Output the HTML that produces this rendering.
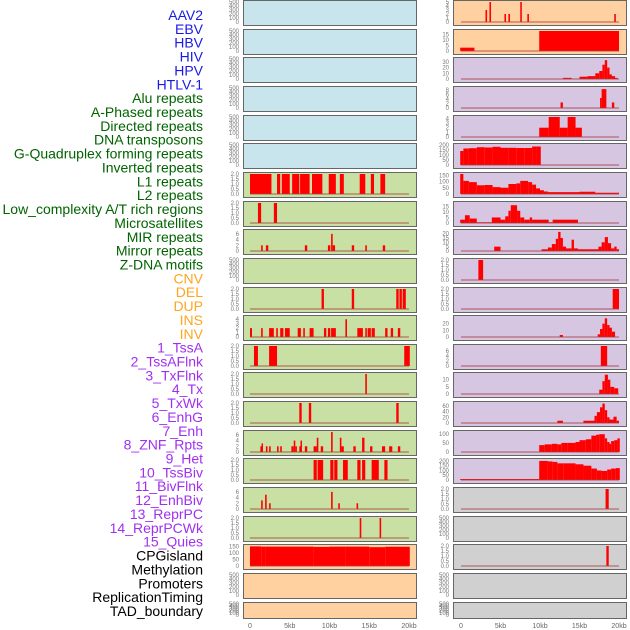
<!DOCTYPE html>
<html><head><meta charset="utf-8">
<style>
body{margin:0;background:#fff;}
svg{display:block;font-family:"Liberation Sans",sans-serif;}
</style></head>
<body>
<svg id="c" width="630" height="630" viewBox="0 0 630 630" xmlns="http://www.w3.org/2000/svg"></svg>
<script>
const labels=["AAV2","EBV","HBV","HIV","HPV","HTLV-1","Alu repeats","A-Phased repeats","Directed repeats","DNA transposons","G-Quadruplex forming repeats","Inverted repeats","L1 repeats","L2 repeats","Low_complexity A/T rich regions","Microsatellites","MIR repeats","Mirror repeats","Z-DNA motifs","CNV","DEL","DUP","INS","INV","1_TssA","2_TssAFlnk","3_TxFlnk","4_Tx","5_TxWk","6_EnhG","7_Enh","8_ZNF_Rpts","9_Het","10_TssBiv","11_BivFlnk","12_EnhBiv","13_ReprPC","14_ReprPCWk","15_Quies","CPGisland","Methylation","Promoters","ReplicationTiming","TAD_boundary"];
const labelColors=["#1a1ae6","#006400","#ffa520","#a030f0","#000"];
const labelGroups=[6,13,5,15,5];
const xTicks=[0,5,10,15,20];
const xTickLabels=["0","5kb","10kb","15kb","20kb"];
const T500=[0,100,200,300,400,500];
const T2=[0,0.5,1,1.5,2];
const leftBg=["b","b","b","b","b","b","g","g","g","g","g","g","g","g","g","g","g","g","g","p","p","p"];
const leftMax=[500,500,500,500,500,500,2,2,7,500,2,4.5,2,2,2,7,2,7,2,155,500,500];
const leftTicks=[T500,T500,T500,T500,T500,T500,T2,T2,[0,2,4,6],T500,T2,[0,1,2,3,4],T2,T2,T2,[0,2,4,6],T2,[0,2,4,6],T2,[0,50,100,150],T500,T500];
const leftSegs=[[],[],[],[],[],[],
[[0,2.7,2],[3.4,3.8,2],[4,5,2],[5.3,6.2,2],[6.3,7.5,2],[7.8,9.1,2],[9.9,10.8,2],[11.3,11.8,2],[13.8,14.5,2],[15.2,15.6,2],[16.4,17,2]],
[[1,1.4,2],[3,3.4,2]],
[[1.4,1.6,2],[2,2.3,2],[6.9,7.2,2],[9.8,10.1,2],[10.2,10.4,6],[10.4,10.7,2],[12.8,13.1,2],[14.5,14.7,2],[16.7,17,2]],
[],
[[9,9.3,2],[12.8,13.1,2],[18.4,18.7,2],[18.8,19.1,2],[19.2,19.6,2]],
[[0,0.25,2],[1.4,1.6,2],[2.4,3,2],[3.3,3.5,2],[3.8,4.2,2],[4.4,5,2],[6,6.4,2],[6.7,6.9,2],[7.5,8,2],[9.3,9.6,2],[9.8,10.1,2],[10.2,10.8,2],[12,12.2,4],[13.5,14.2,2],[14.5,14.7,2],[14.8,15.2,2],[15.3,15.7,2],[17,17.3,2],[17.7,18,2],[18.6,18.9,2]],
[[0.5,1,2],[2.4,3.4,2],[19.4,20.1,2]],
[[14.5,14.7,2]],
[[6.2,6.5,2],[7.4,7.7,2],[18.4,18.7,2]],
[[1.3,1.45,2],[1.45,1.6,3],[2,2.2,2],[2.4,2.6,2],[3.4,3.6,2],[3.8,4,2],[5.2,5.5,2],[5.5,5.7,4],[5.7,5.9,2],[6.2,6.35,2],[6.35,6.5,4],[6.9,7.2,2],[8,8.4,2],[8.4,8.6,5],[8.9,9.2,2],[10.2,10.4,7],[11.3,11.5,5],[11.5,11.8,2],[13,13.3,2],[14.1,14.4,5],[15.1,15.4,2],[16.6,17,2],[17.5,17.9,2],[18.6,18.9,2]],
[[8,8.4,2],[8.5,9.2,2],[10.1,10.5,2],[10.6,11,2],[11.7,12.3,2],[13.5,13.9,2],[14.1,14.5,2],[15.3,16.2,2],[16.9,17.3,2]],
[[1.4,1.6,3],[1.9,2.1,5],[2.4,2.6,2],[10.2,10.4,6],[11.1,11.3,2],[13.4,13.6,2]],
[[13.8,14,2],[16.3,16.5,2]],
[[0,1.4,152],[1.4,2,150],[2,8,150],[8,10,148],[10,12,150],[12,15,150],[15,17,146],[17,20.1,149]],
[],[]];
const rightBg=["p","p","l","l","l","l","l","l","l","l","l","l","l","l","l","l","l","g","g","g","g","g"];
const rightMax=[5,18,35,9,4.3,200,160,18,23,2,2,30,8,14,70,110,210,2,500,2,500,500];
const rightTicks=[[0,1,2,3,4,5],[0,5,10,15],[0,10,20,30],[0,2,4,6,8],[0,1,2,3,4],[0,50,100,150,200],[0,50,100,150],[0,5,10,15],[0,5,10,15,20],T2,T2,[0,10,20],[0,2,4,6],[0,5,10],[0,20,40,60],[0,50,100],[0,50,100,150,200],T2,T500,T2,T500,T500];
const rightSegs=[
[[3.1,3.3,3],[3.6,3.8,5],[5.5,5.7,2],[6,6.2,2],[7.5,7.7,5],[8.4,8.6,2],[19.4,19.6,2]],
[[-0.1,1.7,3],[9.9,20,18]],
[[12.9,14,2],[15,16,4],[16,17,5],[17,17.5,10],[17.5,17.9,14],[17.9,18.2,25],[18.2,18.5,33],[18.5,18.8,20],[18.8,19.1,8],[19.1,19.5,5],[19.5,19.8,2]],
[[12.6,12.9,2.5],[17.6,17.8,4.5],[17.8,18.4,8.5],[19.1,19.4,2.5]],
[[9.9,11.1,2],[11.1,12.5,4.3],[12.5,13.5,2],[13.5,14.5,4.3],[14.5,15.3,2]],
[[-0.1,0.3,140],[0.3,1,165],[1,2,168],[2,3,178],[3,4,175],[4,5,182],[5,6,172],[6,7,172],[7,8,170],[8,9,170],[9,9.5,185],[9.5,10.1,185]],
[[-0.1,0.3,160],[0.3,1,105],[1,2,95],[2,3,70],[3,4,72],[4,5,55],[5,6,50],[6,7,80],[7,7.5,85],[7.5,8.5,105],[8.5,9,95],[9,9.5,75],[9.5,10,45],[10,10.5,30],[10.5,11,20],[11,15,15],[15,17,18],[17,20,10]],
[[-0.1,0.5,3],[0.5,1.1,7],[1.1,2,4],[2,3.9,0.6],[3.9,5,5],[5,5.6,3],[5.6,6,6],[6,6.3,11],[6.3,7.1,16],[7.1,7.5,11],[7.5,8,5],[8,8.7,3],[8.7,9,5],[9,11.1,3],[11.1,11.6,0.6],[11.6,14.8,3]],
[[4.2,5,5],[10.2,11,2],[11,11.5,4],[11.5,12,8],[12,12.3,14],[12.3,12.6,22],[12.6,12.9,15],[12.9,13.3,5],[13.3,14,3],[14,14.3,13],[14.3,14.8,3],[14.8,17.4,2],[17.4,17.8,5],[17.8,18.2,10],[18.2,18.6,16],[18.6,19,9],[19,19.4,3],[19.4,19.7,5],[19.7,20,2]],
[[2.2,2.8,2]],
[[19.2,20,2]],
[[12.5,12.9,3],[17.3,17.6,4],[17.6,17.9,12],[17.9,18.2,20],[18.2,18.5,28],[18.5,18.8,18],[18.8,19.1,14],[19.1,19.5,8]],
[[17.7,18.5,8]],
[[17.5,17.9,3],[17.9,18.2,9],[18.2,18.6,13.5],[18.6,18.9,10],[18.9,19.4,5],[19.4,19.9,4]],
[[12.2,12.9,8],[15.5,16.9,8],[16.9,17.2,25],[17.2,17.6,38],[17.6,17.9,55],[17.9,18.2,68],[18.2,18.5,45],[18.5,18.8,20],[18.8,19.3,12],[19.3,19.7,22],[19.7,20,8]],
[[9.9,10.6,38],[10.6,11.5,42],[11.5,12.2,45],[12.2,12.7,42],[12.7,13.5,50],[13.5,14.5,50],[14.5,15,55],[15,15.8,65],[15.8,16.5,70],[16.5,17.1,90],[17.1,17.5,95],[17.5,18.2,98],[18.2,18.5,75],[18.5,18.8,55],[18.8,19,45],[19,19.4,60],[19.4,19.8,65],[19.8,20.1,75]],
[[-0.1,9.9,10],[9.9,11,200],[11,11.6,195],[11.6,12.2,190],[12.2,13,175],[13,14.5,175],[14.5,15.5,165],[15.5,16.5,150],[16.5,17.2,120],[17.2,17.8,100],[17.8,18.5,95],[18.5,19,110],[19,19.6,120],[19.6,20.1,125]],
[[18.3,18.7,2]],
[],
[[18.4,18.7,2]],
[],[]];
const bgColors={b:"#c8e4ec",g:"#c8e0a4",p:"#ffd0a0",l:"#d6c6e2",x:"#d0d0d0"};
const NS="http://www.w3.org/2000/svg";
const svg=document.getElementById('c');
function mk(tag,attrs,parent){const e=document.createElementNS(NS,tag);for(const k in attrs)e.setAttribute(k,attrs[k]);(parent||svg).appendChild(e);return e;}
let li=0;
labelGroups.forEach((n,g)=>{for(let i=0;i<n;i++){const y=15+li*13.86;
 const t=mk('text',{x:203,y:y+5,'text-anchor':'end','font-size':'14',fill:labelColors[g]});
 
 
 t.textContent=labels[li];li++;}});
const rowTops=[];for(let i=0;i<22;i++)rowTops.push(Math.round(i*28.65));
function drawPanel(col,i,bg,ymax,ticks,segs){
 const x0=col?453:243,x1=col?626:416;
 const kx=col?(k=>461+k*7.9):(k=>250+k*7.95);
 const top=rowTops[i],h=(i==21)?16:25;
 const base=top+h-3,ptop=top+2;
 const ys=v=>base-(v/ymax)*(base-ptop);
 const g=mk('g',{});
 
 
 const bgc=(col&&bg==='g')?bgColors.x:bgColors[bg];
 mk('rect',{x:x0+0.5,y:top+0.5,width:x1-x0,height:h,fill:bgc,stroke:'#666','stroke-width':1},g);
 const dec=ticks.some(t=>t%1!==0);
 ticks.forEach(t=>{const tl=mk('text',{x:x0-4,y:ys(t)+2,'text-anchor':'end','font-size':'6',fill:'#777'},g);
  
  
  tl.textContent=dec?t.toFixed(1):String(t);});
 segs.forEach(s=>{const r=mk('rect',{x:kx(s[0]),y:ys(s[2]),width:Math.max(1.5,kx(s[1])-kx(s[0])),height:base-ys(s[2]),fill:'#ff0000'},g);
  
  });
 if(segs.length){const bl=mk('line',{x1:kx(0),x2:kx(20),y1:base,y2:base,stroke:'rgba(170,60,60,0.55)','stroke-width':1.6},g);
  
  }
}
for(let i=0;i<22;i++){drawPanel(0,i,leftBg[i],leftMax[i],leftTicks[i],leftSegs[i]);drawPanel(1,i,rightBg[i],rightMax[i],rightTicks[i],rightSegs[i]);}
[0,1].forEach(col=>{const kx=col?(k=>461+k*7.9):(k=>250+k*7.95);
 xTicks.forEach((t,j)=>{const tl=mk('text',{x:kx(t),y:628,'text-anchor':'middle','font-size':'7',fill:'#666'});
  
  
  tl.textContent=xTickLabels[j];});});
</script>
</body></html>
